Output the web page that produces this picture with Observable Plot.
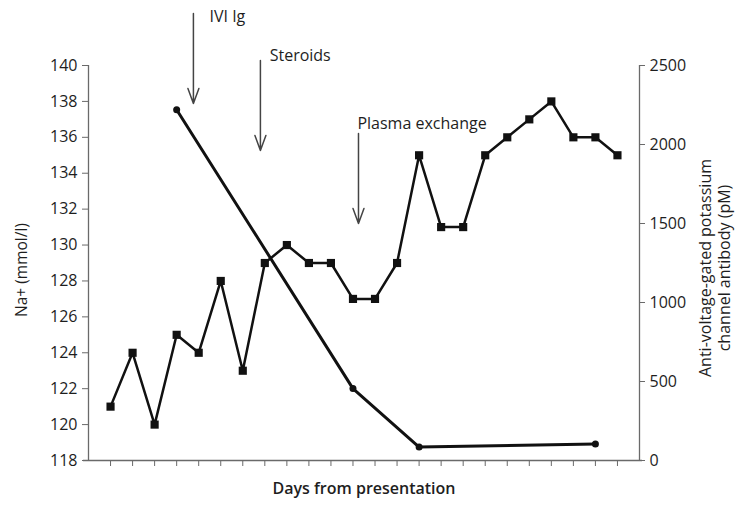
<!DOCTYPE html>
<html><head><meta charset="utf-8">
<script src="https://cdn.jsdelivr.net/npm/d3@7"></script>
<script src="https://cdn.jsdelivr.net/npm/@observablehq/plot@0.6"></script>
<style>
body{margin:0;background:#fff}
#chart svg{display:block}
</style>
</head><body><div id="chart"></div>
<script>
// ---- data ----
const days = [0,1,2,3,4,5,6,7,8,9,10,11,12,13,14,15,16,17,18,19,20,21,22,23];
const sodium = [121,124,120,125,124,128,123,129,130,129,129,127,127,129,135,131,131,135,136,137,138,136,136,135];
const antibodyDays = [3,11,14,22];
const antibody = [2220,455,85,105];
const sodiumTicks = [118,120,122,124,126,128,130,132,134,136,138,140];
const antibodyTicks = [0,500,1000,1500,2000,2500];
const treatments = ["IVI Ig","Steroids","Plasma exchange"];
const treatmentDay = [3.76,6.8,11.25];
const treatmentTop = [142.9,140.28,136.21];
const treatmentTip = [137.88,135.26,131.2];
const labelDay = [4.49,7.22,11.2];
const labelLevel = [142.72,140.56,136.77];

// ---- helpers ----
const naMin = 118, naMax = 140, abMax = 2500;
const toNa = v => naMin + v / abMax * (naMax - naMin);
const fromNa = y => String(Math.round((y - naMin) / (naMax - naMin) * abMax));

const naData = days.map((d,i) => ({day:d, na:sodium[i]}));
const abData = antibodyDays.map((d,i) => ({day:d, y:toNa(antibody[i])}));
const arrows = treatments.map((t,i) => ({x:treatmentDay[i], y1:treatmentTop[i], y2:treatmentTip[i]}));
const labels = treatments.map((t,i) => ({t, x:labelDay[i], y:labelLevel[i]}));

const font = "'Open Sans', Lato, sans-serif";
const axisGray = "#6a6a6a";
const ink = "#1e1e1e";

const chart = Plot.plot({
  width: 740, height: 506,
  marginLeft: 88, marginRight: 101, marginTop: 65, marginBottom: 46,
  style: {fontFamily: font, fontSize: "16px", color: ink, background: "#fff"},
  x: {domain: [-1, 24], axis: null},
  y: {domain: [naMin, naMax], axis: null},
  marks: [
    // axis lines
    Plot.ruleX([-1, 24], {y1: naMin, y2: naMax, stroke: axisGray, strokeWidth: 1.3}),
    Plot.ruleY([naMin], {x1: -1.23, x2: 24.14, stroke: axisGray, strokeWidth: 1.3}),
    // left axis
    Plot.axisY(sodiumTicks, {anchor: "left", tickSize: 6, tickPadding: 5, stroke: axisGray, fontSize: 16, label: null}),
    // right axis (antibody)
    Plot.axisY(antibodyTicks.map(toNa), {anchor: "right", tickSize: 5, tickPadding: 5, stroke: axisGray, fontSize: 16, tickFormat: fromNa, label: null}),
    // bottom ticks
    Plot.axisX(days, {anchor: "bottom", tickSize: 6, tickFormat: () => "", stroke: axisGray, label: null}),
    // axis titles
    Plot.text(["Na+ (mmol/l)"], {frameAnchor: "left", textAnchor: "middle", rotate: -90, dx: -66, dy: 7, fontSize: 15.5, fill: ink}),
    Plot.text(["Anti-voltage-gated potassium\nchannel antibody (pM)"], {frameAnchor: "right", textAnchor: "middle", rotate: -90, dx: 75, dy: 5, fontSize: 16, lineHeight: 1.2, fill: ink}),
    Plot.text(["Days from presentation"], {frameAnchor: "bottom", dy: 33, fontSize: 16, fontWeight: 600, fill: ink}),
    // antibody series
    Plot.line(abData, {x: "day", y: "y", stroke: "#111", strokeWidth: 3}),
    Plot.dot(abData, {x: "day", y: "y", r: 3.5, fill: "#111"}),
    // sodium series
    Plot.line(naData, {x: "day", y: "na", stroke: "#111", strokeWidth: 2.5}),
    Plot.dot(naData, {x: "day", y: "na", symbol: "square", r: 4.6, fill: "#111"}),
    // treatment arrows
    Plot.arrow(arrows, {x: "x", y1: "y1", y2: "y2", stroke: "#444", strokeWidth: 1.5, headLength: 16, headAngle: 40}),
    Plot.text(labels, {x: "x", y: "y", text: "t", textAnchor: "start", fontSize: 16, fill: ink})
  ]
});
document.getElementById("chart").appendChild(chart);
</script>
</body></html>
